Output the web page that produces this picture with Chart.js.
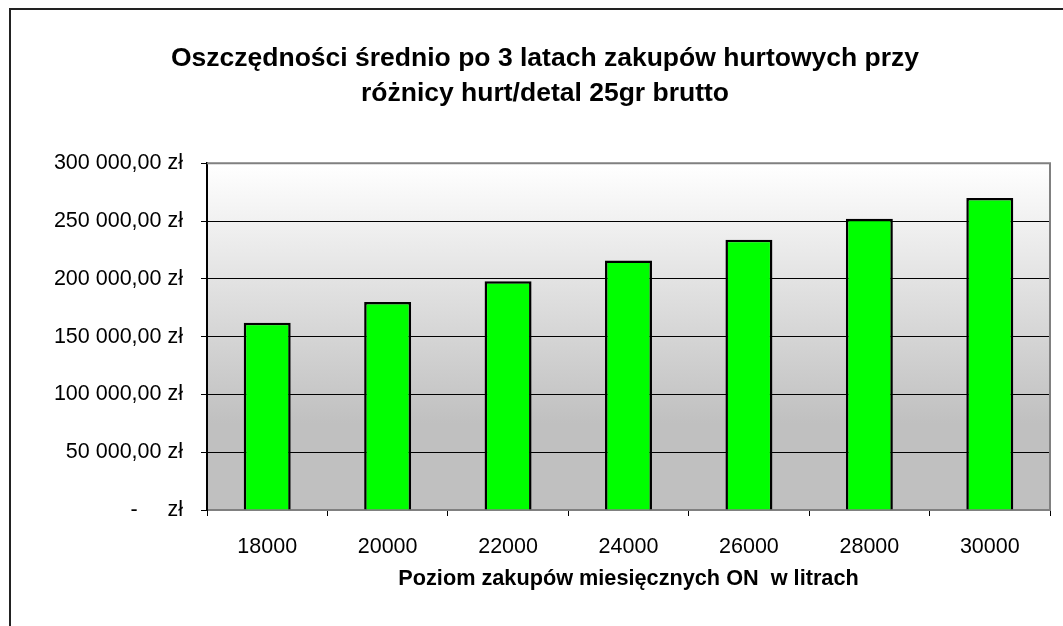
<!DOCTYPE html>
<html>
<head>
<meta charset="utf-8">
<script src="https://cdn.jsdelivr.net/npm/chart.js@4"></script>
<style>
  body { margin: 0; background: #fff; }
  #chart { display: block; }
</style>
</head>
<body>
<canvas id="chart" width="1063" height="626"></canvas>
<script>
// data
const levels = ['18000', '20000', '22000', '24000', '26000', '28000', '30000'];
const savings = [162000, 180000, 198000, 216000, 234000, 252000, 270000];
const yTicks = [0, 50000, 100000, 150000, 200000, 250000, 300000];

const titleLines = ['Oszczędności średnio po 3 latach zakupów hurtowych przy', 'różnicy hurt/detal 25gr brutto'];
const xTitle = 'Poziom zakupów miesięcznych ON  w litrach';

function zl(v) {
    if (v === 0) return '-     zł';
    return String(v).replace(/\B(?=(\d{3})+(?!\d))/g, ' ') + ',00 zł';
}

Chart.defaults.font.family = '"Liberation Sans", Arial, sans-serif';
Chart.defaults.color = '#000';

// gradient behind the bars + frame lines
const plotBg = {
    id: 'plotBg',
    beforeDraw(chart) {
        const { ctx, chartArea: a } = chart;
        const g = ctx.createLinearGradient(0, a.top, 0, a.bottom);
        g.addColorStop(0, '#ffffff');
        g.addColorStop(0.75, '#c0c0c0');
        g.addColorStop(1, '#c0c0c0');
        ctx.save();
        ctx.fillStyle = g;
        ctx.fillRect(a.left, a.top, a.right - a.left, a.bottom - a.top);
        ctx.restore();
    },
    afterDraw(chart) {
        const { ctx, chartArea: a } = chart;
        ctx.save();
        ctx.strokeStyle = '#808080';
        ctx.lineWidth = 2;
        ctx.beginPath();
        ctx.moveTo(a.left, a.top);
        ctx.lineTo(a.right, a.top);
        ctx.lineTo(a.right, a.bottom);
        ctx.stroke();
        // outer chart border (only top and left show)
        ctx.strokeStyle = '#222';
        ctx.beginPath();
        ctx.moveTo(1063, 9);
        ctx.lineTo(10, 9);
        ctx.lineTo(10, 626);
        ctx.stroke();
        ctx.restore();
    }
};

new Chart(document.getElementById('chart').getContext('2d'), {
    type: 'bar',
    data: {
        labels: levels,
        datasets: [{
            data: savings,
            backgroundColor: '#00ff00',
            borderColor: '#000',
            borderWidth: 2.5,
            categoryPercentage: 1,
            barPercentage: 0.39
        }]
    },
    options: {
        responsive: false,
        animation: false,
        layout: { padding: { left: 40, right: 13, top: 0, bottom: 0 } },
        plugins: {
            legend: { display: false },
            tooltip: { enabled: false },
            title: {
                display: true,
                text: titleLines,
                font: { size: 26.5, weight: 'bold', lineHeight: 1.29 },
                color: '#000',
                padding: { top: 42, bottom: 53 }
            }
        },
        scales: {
            x: {
                offset: true,
                grid: { offset: true, drawOnChartArea: false, tickLength: 6, tickColor: '#000' },
                border: { color: '#808080', width: 2 },
                ticks: { font: { size: 21.5 }, padding: 18, maxRotation: 0 },
                title: {
                    display: true,
                    text: xTitle,
                    font: { size: 21.7, weight: 'bold' },
                    padding: { top: 0, bottom: 34 }
                },
                afterFit(scale) { scale.height = 116; }
            },
            y: {
                min: 0,
                max: 300000,
                afterBuildTicks(scale) { scale.ticks = yTicks.map(v => ({ value: v })); },
                grid: { color: '#000', lineWidth: 1, tickLength: 6, tickColor: '#000' },
                border: { color: '#000', width: 2 },
                ticks: { font: { size: 21.5 }, padding: 18, callback: v => zl(v) },
                afterFit(scale) { scale.width = 167; }
            }
        }
    },
    plugins: [plotBg]
});
</script>
</body>
</html>
